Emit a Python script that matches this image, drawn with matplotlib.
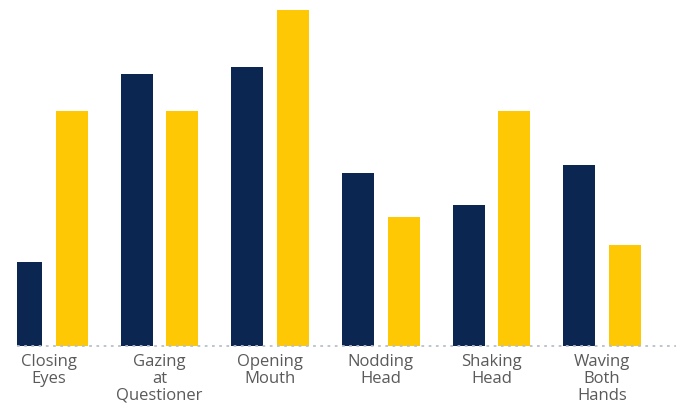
import numpy as np
import matplotlib
matplotlib.use("Agg")
import matplotlib.pyplot as plt

# behaviours and the two series (max bar = 100)
categories = ["Closing\nEyes", "Gazing\nat\nQuestioner", "Opening\nMouth",
              "Nodding\nHead", "Shaking\nHead", "Waving\nBoth\nHands"]
navy_vals = [25, 81, 83, 51.5, 42, 54]
gold_vals = [70, 70, 100, 38.5, 70, 30]

NAVY = "#0b2650"
GOLD = "#fec805"

W, H = 676, 407
fig = plt.figure(figsize=(W / 100, H / 100), dpi=100)
ax = fig.add_axes([17 / W, 61 / H, (676 - 17) / W, 336 / H])

x = np.arange(len(categories))
off, bw = 0.206, 0.29
ax.bar(x - off, navy_vals, bw, color=NAVY)
ax.bar(x + off, gold_vals, bw, color=GOLD)

ax.set_xlim(-0.29, 5.67)
ax.set_ylim(0, 100)

# dotted baseline
ax.axhline(0, color="#b8c0cc", lw=1.3, ls=(0, (1.5, 2.5)), clip_on=False)

for s in ax.spines.values():
    s.set_visible(False)
ax.set_yticks([])
ax.set_xticks(x)
ax.set_xticklabels(categories, fontsize=12, color="#5a5a5a",
                   family=["Open Sans", "DejaVu Sans"], linespacing=1.05)
ax.tick_params(axis="x", length=0, pad=6)

fig.savefig("out.png", dpi=100)
